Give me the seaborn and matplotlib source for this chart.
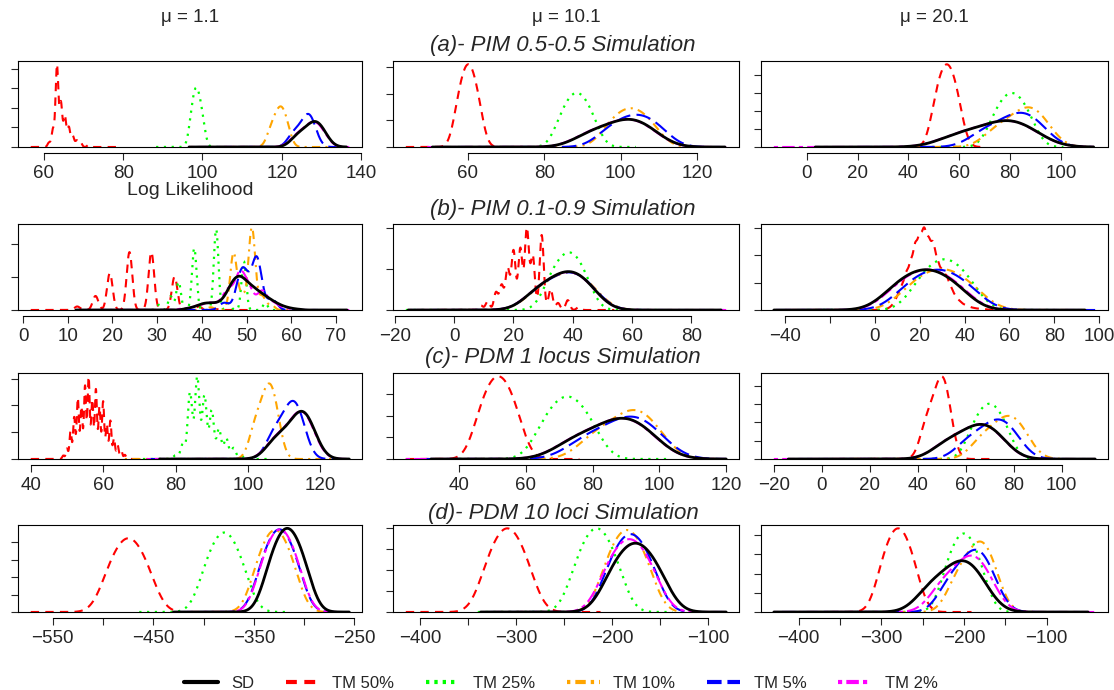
import numpy as np
import matplotlib
matplotlib.use("Agg")
import matplotlib.pyplot as plt
from matplotlib.lines import Line2D
from matplotlib.ticker import MaxNLocator
import seaborn as sns

# column headers, row titles and legend names
mu_labels = ["\u03bc = 1.1", "\u03bc = 10.1", "\u03bc = 20.1"]
row_titles = ["(a)- PIM 0.5-0.5 Simulation", "(b)- PIM 0.1-0.9 Simulation",
              "(c)- PDM 1 locus Simulation", "(d)- PDM 10 loci Simulation"]
series = ["TM 50%", "TM 25%", "TM 10%", "TM 5%", "TM 2%", "SD"]

# x ticks of the 12 panels (row by row) and the ones R left without a label
x_ticks = [
    [60, 80, 100, 120, 140], [60, 80, 100, 120], [0, 20, 40, 60, 80, 100],
    [0, 10, 20, 30, 40, 50, 60, 70], [-20, 0, 20, 40, 60, 80], [-40, -20, 0, 20, 40, 60, 80, 100],
    [40, 60, 80, 100, 120], [40, 60, 80, 100, 120], [-20, 0, 20, 40, 60, 80, 100],
    [-550, -500, -450, -400, -350, -300, -250], [-400, -350, -300, -250, -200, -150, -100],
    [-400, -350, -300, -250, -200, -150, -100],
]
unlabeled = [[], [], [], [], [], [-20], [], [], [], [-500, -400, -300], [-350, -250, -150], [-350, -250, -150]]

# log-likelihood samples behind each density curve, one entry per panel:
# (values, weights or None, bandwidth or None, lowest value, highest value)
SD = [
    ([123.8, 126.2, 127.9, 128.9, 130.4], None, None, 96.6, 136.3),
    ([91.4, 97.0, 101.0, 103.8, 107.7], None, None, 50.8, 127.2),
    ([58.7, 69.3, 76.8, 81.4, 87.9], None, None, 3.3, 112.9),
    ([36, 37, 38, 39, 40, 41, 42, 43, 44, 45, 46, 47, 48, 49, 50, 51, 52, 53, 54, 55, 56, 57, 58, 59, 60, 61, 62],
     [3, 5, 8, 12, 18, 20, 20, 20, 22, 35, 60, 85, 97, 95, 80, 70, 60, 50, 42, 33, 25, 18, 12, 8, 5, 3, 2],
     0.8, 11.8, 72.5),
    ([27.5, 33.5, 37.7, 41.0, 45.6], None, None, -15.5, 90.0),
    ([8.7, 16.9, 22.8, 28.7, 36.9], None, None, -45, 93.7),
    ([107.4, 111.4, 114.2, 115.5, 117.3], None, None, 75.6, 128),
    ([73.9, 81.9, 87.5, 91.3, 96.5], None, None, 31.5, 120),
    ([51.3, 59.3, 64.9, 68.7, 73.9], None, None, -14, 114),
    ([-334.1, -323.9, -316.7, -309.5, -299.3], None, None, -430, -255),
    ([-201.2, -186.3, -175.7, -165.1, -150.2], None, None, -337, -81),
    ([-243.3, -221.5, -206.0, -195.0, -179.6], None, None, -430, -50),
]
TM50 = [
    ([61.3, 62.3, 63.3, 64.3, 65.3, 66.3, 67.3, 68.3, 69.3, 71.3],
     [2, 8, 37, 20, 14, 9, 5, 3, 2, 1], 0.35, 56.7, 79.2),
    ([57.5, 59.1, 60.2, 61.3, 62.9], None, None, 43.9, 75),
    ([50.6, 53.2, 55.1, 57.0, 59.6], None, None, 38, 69),
    ([12.1, 16.2, 19.4, 23.8, 28.7, 33.9, 39.3, 43.0],
     [10, 40, 105, 165, 165, 95, 10, 3], 0.63, 1.7, 50.5),
    ([9, 11.3, 14.1, 16, 18, 20, 22.3, 24.5, 26.5, 29.5, 32.5, 35, 38.3, 42],
     [13, 25, 50, 70, 118, 168, 175, 231, 153, 213, 60, 20, 28, 8], 0.7, -5, 54),
    ([6, 8, 10, 12, 14, 16, 18, 20, 22, 24, 26, 28, 30, 32, 34, 36, 38, 40, 42, 44, 46, 48, 50],
     [5, 15, 40, 70, 110, 140, 195, 220, 241, 205, 200, 140, 115, 100, 65, 40, 25, 15, 10, 6, 4, 3, 2],
     1.0, -8, 56),
    ([49, 50, 51, 52, 53, 54, 55, 56, 57, 58, 59, 60, 61, 62, 63, 64, 65, 66, 67],
     [10, 30, 80, 120, 175, 150, 210, 235, 170, 200, 150, 165, 100, 110, 60, 40, 25, 12, 6], 0.3, 40, 71),
    ([46.3, 49.4, 51.7, 54.0, 57.1], None, None, 24, 76),
    ([43.2, 46.8, 49.4, 50.8, 52.8], None, None, 7, 72),
    ([-494.5, -483.0, -474.8, -466.6, -455.1], None, None, -572, -430),
    ([-330.2, -317.9, -309.2, -300.5, -288.2], None, None, -415, -212),
    ([-299.0, -287.8, -279.8, -271.8, -260.6], None, None, -362, -191),
]
TM25 = [
    ([97.2, 98.0, 98.5, 99.1, 100.0], None, None, 88.3, 103.9),
    ([84.4, 86.8, 88.5, 90.2, 92.6], None, None, 78.8, 103.9),
    ([73.8, 77.8, 80.7, 83.6, 87.6], None, None, 40, 101),
    ([30.4, 33.0, 34.8, 38.3, 43.2, 46.0, 49.4, 54.2],
     [15, 40, 82, 180, 235, 20, 142, 20], 0.52, 27, 59.4),
    ([32.3, 35.9, 38.5, 40.9, 44.2], None, None, -16.3, 68.6),
    ([19.8, 26.3, 31.0, 35.7, 42.2], None, None, -30, 80),
    ([80, 82, 84, 86, 88, 90, 92, 94, 96, 98],
     [10, 40, 180, 222, 172, 132, 82, 57, 30, 10], 0.62, 71, 105.5),
    ([65.2, 69.4, 72.4, 75.4, 79.6], None, None, 40, 103),
    ([63.0, 67.0, 69.9, 72.8, 76.8], None, None, 20, 95),
    ([-397.7, -387.0, -379.4, -371.8, -361.1], None, None, -464, -314),
    ([-237.0, -224.7, -216.0, -207.3, -195.0], None, None, -340, -137),
    ([-220.8, -208.8, -200.3, -191.8, -179.8], None, None, -330, -120),
]
TM10 = [
    ([117.2, 118.6, 119.5, 120.25, 121.3], None, None, 97, 132),
    ([96.9, 100.2, 102.6, 105.0, 108.3], None, None, 52, 126),
    ([74.1, 81.1, 86.0, 89.1, 93.5], None, None, 30, 110),
    ([42.0, 47.1, 49.0, 51.2, 53.5, 55.5], [8, 165, 40, 239, 40, 15], 0.75, 26, 62),
    ([27.8, 33.8, 38.0, 41.5, 46.2], None, None, -15, 90),
    ([15.7, 23.8, 29.6, 35.4, 43.5], None, None, -40, 95),
    ([101.8, 104.0, 105.5, 106.5, 107.9], None, None, 66, 125),
    ([79.9, 86.5, 91.2, 94.3, 98.7], None, None, 30, 118),
    ([66.1, 72.3, 76.8, 79.9, 84.1], None, None, 0, 105),
    ([-346.5, -336.2, -328.8, -321.4, -311.1], None, None, -420, -280),
    ([-205.9, -193.4, -184.5, -175.6, -163.1], None, None, -330, -90),
    ([-210.4, -194.6, -183.3, -175.3, -164.1], None, None, -400, -60),
]
TM5 = [
    ([122.7, 124.8, 126.3, 126.96, 127.9], None, None, 98.5, 134),
    ([96.5, 100.7, 103.7, 106.5, 110.2], None, None, 52, 126),
    ([69.1, 77.1, 82.7, 86.4, 91.5], None, None, 20, 112),
    ([45.0, 48.5, 49.8, 52.3, 55.7], [20, 70, 70, 145, 30], 1.1, 12, 66),
    ([27.5, 33.6, 37.8, 41.3, 45.9], None, None, -15, 91),
    ([13.9, 22.1, 28.0, 33.9, 42.1], None, None, -44, 98.2),
    ([106.8, 109.8, 111.9, 113.1, 114.8], None, None, 73, 124),
    ([77.1, 84.7, 90.1, 93.7, 98.8], None, None, 30, 120),
    ([60.4, 67.4, 72.3, 75.6, 80.2], None, None, -10, 110),
    ([-342.1, -331.8, -324.5, -317.2, -306.9], None, None, -425, -270),
    ([-203.1, -190.0, -180.6, -171.2, -158.1], None, None, -330, -85),
    ([-219.5, -201.7, -189.0, -179.9, -167.1], None, None, -420, -60),
]
TM2 = [
    ([123.5, 126.0, 127.6, 128.7, 130.2], None, None, 97, 137),
    ([91.2, 96.8, 100.8, 103.6, 107.5], None, None, 49.5, 127.5),
    ([58.5, 69.1, 76.6, 81.2, 87.7], None, None, -13, 113.5),
    ([36, 39, 41.5, 44, 46, 48.5, 50.5, 53.5, 56, 58.5],
     [5, 12, 20, 18, 55, 100, 60, 55, 20, 6], 1.1, 12, 73),
    ([27.4, 33.4, 37.6, 41.0, 45.6], None, None, -15.5, 91.7),
    ([9.4, 17.6, 23.5, 29.4, 37.6], None, None, -44, 94),
    ([107.2, 111.2, 114.0, 115.3, 117.1], None, None, 72, 128),
    ([73.7, 81.7, 87.3, 91.1, 96.3], None, None, 24, 120),
    ([51.1, 59.1, 64.7, 68.5, 73.7], None, None, -20, 114),
    ([-341.6, -331.3, -324.0, -316.7, -306.4], None, None, -425, -268),
    ([-206.1, -192.0, -182.0, -172.0, -157.9], None, None, -335, -82),
    ([-228.6, -208.8, -194.7, -184.7, -170.7], None, None, -430, -41.5),
]
curves = [TM50, TM25, TM10, TM5, TM2, SD]

# line styles, R style lty 2..6
colors = ["#FF0000", "#00FF00", "#FFA500", "#0000FF", "#FF00FF", "black"]
dashes = [(0, (4, 3)), (0, (1, 2.5)), (0, (1, 2.5, 4, 2.5)), (0, (7, 3)), (0, (2, 2, 6, 2)), "-"]
widths = [1.5, 1.6, 1.5, 1.5, 1.5, 2.0]

sns.set_style("white")
plt.rcParams["font.family"] = ["Liberation Sans", "DejaVu Sans"]
plt.rcParams["axes.unicode_minus"] = True

W, H = 1114, 690
fig = plt.figure(figsize=(W / 100, H / 100), dpi=100)

col_lr = [(18, 362), (393, 739), (761, 1108)]
row_tb = [(61, 147), (224, 310), (373, 459), (525, 612)]


def density(ax, entry, color, ls, lw, z):
    vals, wts, bw, lo, hi = entry
    w = np.ones(len(vals)) if wts is None else np.asarray(wts, float)
    # the extreme samples only set how far the flat tails reach
    x = np.concatenate([vals, [lo, hi]]).astype(float)
    w = np.concatenate([w, [w.sum() * 1e-5] * 2])
    if bw is None:
        method = "scott"
    else:
        method = bw / np.sqrt(np.cov(x, aweights=w))
    sns.kdeplot(x=x, weights=w, bw_method=method, cut=0, gridsize=1500, ax=ax,
                color=color, ls=ls, lw=lw, zorder=z)


for r in range(4):
    for c in range(3):
        i = r * 3 + c
        L, R = col_lr[c]
        T, B = row_tb[r]
        ax = fig.add_axes([L / W, 1 - B / H, (R - L) / W, (B - T) / H])
        ax.set_xmargin(0.04)
        ax.set_ymargin(0.04)
        for k in range(6):
            density(ax, curves[k][i], colors[k], dashes[k], widths[k], 2 + k)
        ax.set_xlabel("Log Likelihood" if i == 0 else "", fontsize=14, labelpad=0)
        ax.set_ylabel("")
        ticks = x_ticks[i]
        ax.set_xticks(ticks)
        ax.set_xticklabels(["" if t in unlabeled[i] else str(t).replace("-", "\u2212") for t in ticks])
        ax.yaxis.set_major_locator(MaxNLocator(nbins=5, steps=[1, 2, 5, 10]))
        ax.tick_params(axis="x", direction="out", length=5, width=0.8, pad=4, labelsize=13.5, bottom=True)
        ax.tick_params(axis="y", direction="out", length=5, width=0.8, labelleft=False, left=True)
        for s in ["left", "top", "right", "bottom"]:
            ax.spines[s].set_color("black")
            ax.spines[s].set_linewidth(0.8)
        ax.spines["bottom"].set_position(("outward", 4))
        ax.spines["bottom"].set_bounds(ticks[0], ticks[-1])
        ax.plot([0, 1], [0, 0], transform=ax.transAxes, color="black", lw=0.8, clip_on=False, zorder=10)

for c, lab in enumerate(mu_labels):
    L, R = col_lr[c]
    fig.text((L + R) / 2 / W, 1 - 18 / H, lab, ha="center", va="center", fontsize=13.5)

for r, title in enumerate(row_titles):
    y = [46, 210, 358, 513][r]
    fig.text(563 / W, 1 - y / H, title, ha="center", va="center", fontsize=16, fontstyle="italic")

leg_dashes = [(0, (2.6, 1.8)), (0, (0.8, 1.2)), (0, (0.8, 1.2, 2.5, 1.2)), (0, (3.5, 1.4)), (0, (1, 1, 3, 1)), "-"]
handles = [Line2D([], [], color=colors[k], ls=leg_dashes[k], lw=3) for k in [5, 0, 1, 2, 3, 4]]
names = [series[k] for k in [5, 0, 1, 2, 3, 4]]
fig.legend(handles, names, loc="center", bbox_to_anchor=(561 / W, 1 - 683 / H), ncol=6, frameon=False,
           fontsize=12, handlelength=2.0, handletextpad=0.8, columnspacing=1.9)

fig.savefig("out.png", dpi=100)
